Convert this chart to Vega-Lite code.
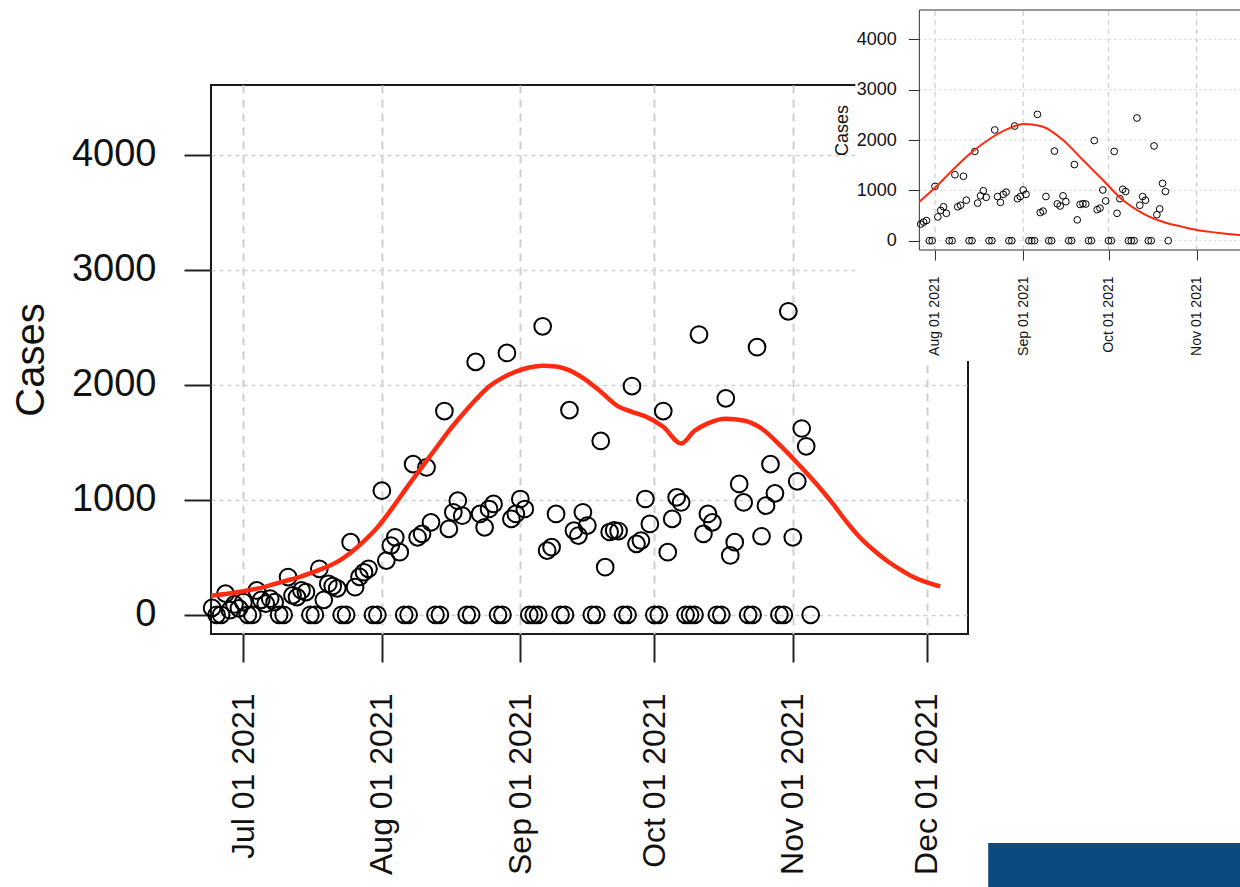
{
  "$schema": "https://vega.github.io/schema/vega-lite/v6.json",
  "width": 757,
  "height": 549,
  "autosize": {"type": "none"},
  "padding": {"left": 211, "top": 85, "right": 272, "bottom": 253},
  "background": "white",
  "config": {
    "view": {"stroke": "#1a1a1a", "strokeWidth": 2},
    "font": "Liberation Sans",
    "axis": {"labelFont": "Liberation Sans", "titleFont": "Liberation Sans", "labelColor": "#111", "titleColor": "#111", "labelLimit": 500}
  },
  "datasets": {
    "cases": [
      {"date": "2021-06-24", "cases": 60}, {"date": "2021-06-25", "cases": 0}, {"date": "2021-06-26", "cases": 0},
      {"date": "2021-06-27", "cases": 184}, {"date": "2021-06-28", "cases": 40}, {"date": "2021-06-29", "cases": 90},
      {"date": "2021-06-30", "cases": 56}, {"date": "2021-07-01", "cases": 110}, {"date": "2021-07-02", "cases": 0},
      {"date": "2021-07-03", "cases": 0}, {"date": "2021-07-04", "cases": 212}, {"date": "2021-07-05", "cases": 130},
      {"date": "2021-07-06", "cases": 97}, {"date": "2021-07-07", "cases": 140}, {"date": "2021-07-08", "cases": 110},
      {"date": "2021-07-09", "cases": 0}, {"date": "2021-07-10", "cases": 0}, {"date": "2021-07-11", "cases": 328},
      {"date": "2021-07-12", "cases": 169}, {"date": "2021-07-13", "cases": 154}, {"date": "2021-07-14", "cases": 212},
      {"date": "2021-07-15", "cases": 198}, {"date": "2021-07-16", "cases": 0}, {"date": "2021-07-17", "cases": 0},
      {"date": "2021-07-18", "cases": 400}, {"date": "2021-07-19", "cases": 130}, {"date": "2021-07-20", "cases": 270},
      {"date": "2021-07-21", "cases": 250}, {"date": "2021-07-22", "cases": 230}, {"date": "2021-07-23", "cases": 0},
      {"date": "2021-07-24", "cases": 0}, {"date": "2021-07-25", "cases": 631}, {"date": "2021-07-26", "cases": 240},
      {"date": "2021-07-27", "cases": 330}, {"date": "2021-07-28", "cases": 370}, {"date": "2021-07-29", "cases": 400},
      {"date": "2021-07-30", "cases": 0}, {"date": "2021-07-31", "cases": 0}, {"date": "2021-08-01", "cases": 1079},
      {"date": "2021-08-02", "cases": 472}, {"date": "2021-08-03", "cases": 602}, {"date": "2021-08-04", "cases": 674},
      {"date": "2021-08-05", "cases": 544}, {"date": "2021-08-06", "cases": 0}, {"date": "2021-08-07", "cases": 0},
      {"date": "2021-08-08", "cases": 1310}, {"date": "2021-08-09", "cases": 674}, {"date": "2021-08-10", "cases": 704},
      {"date": "2021-08-11", "cases": 1281}, {"date": "2021-08-12", "cases": 804}, {"date": "2021-08-13", "cases": 0},
      {"date": "2021-08-14", "cases": 0}, {"date": "2021-08-15", "cases": 1772}, {"date": "2021-08-16", "cases": 747},
      {"date": "2021-08-17", "cases": 891}, {"date": "2021-08-18", "cases": 992}, {"date": "2021-08-19", "cases": 862},
      {"date": "2021-08-20", "cases": 0}, {"date": "2021-08-21", "cases": 0}, {"date": "2021-08-22", "cases": 2199},
      {"date": "2021-08-23", "cases": 877}, {"date": "2021-08-24", "cases": 761}, {"date": "2021-08-25", "cases": 920},
      {"date": "2021-08-26", "cases": 964}, {"date": "2021-08-27", "cases": 0}, {"date": "2021-08-28", "cases": 0},
      {"date": "2021-08-29", "cases": 2277}, {"date": "2021-08-30", "cases": 834}, {"date": "2021-08-31", "cases": 877},
      {"date": "2021-09-01", "cases": 1007}, {"date": "2021-09-02", "cases": 920}, {"date": "2021-09-03", "cases": 0},
      {"date": "2021-09-04", "cases": 0}, {"date": "2021-09-05", "cases": 0}, {"date": "2021-09-06", "cases": 2509},
      {"date": "2021-09-07", "cases": 559}, {"date": "2021-09-08", "cases": 588}, {"date": "2021-09-09", "cases": 877},
      {"date": "2021-09-10", "cases": 0}, {"date": "2021-09-11", "cases": 0}, {"date": "2021-09-12", "cases": 1780},
      {"date": "2021-09-13", "cases": 732}, {"date": "2021-09-14", "cases": 689}, {"date": "2021-09-15", "cases": 891},
      {"date": "2021-09-16", "cases": 776}, {"date": "2021-09-17", "cases": 0}, {"date": "2021-09-18", "cases": 0},
      {"date": "2021-09-19", "cases": 1512}, {"date": "2021-09-20", "cases": 414}, {"date": "2021-09-21", "cases": 720},
      {"date": "2021-09-22", "cases": 735}, {"date": "2021-09-23", "cases": 728}, {"date": "2021-09-24", "cases": 0},
      {"date": "2021-09-25", "cases": 0}, {"date": "2021-09-26", "cases": 1989}, {"date": "2021-09-27", "cases": 617},
      {"date": "2021-09-28", "cases": 646}, {"date": "2021-09-29", "cases": 1007}, {"date": "2021-09-30", "cases": 790},
      {"date": "2021-10-01", "cases": 0}, {"date": "2021-10-02", "cases": 0}, {"date": "2021-10-03", "cases": 1772},
      {"date": "2021-10-04", "cases": 544}, {"date": "2021-10-05", "cases": 834}, {"date": "2021-10-06", "cases": 1021},
      {"date": "2021-10-07", "cases": 977}, {"date": "2021-10-08", "cases": 0}, {"date": "2021-10-09", "cases": 0},
      {"date": "2021-10-10", "cases": 0}, {"date": "2021-10-11", "cases": 2437}, {"date": "2021-10-12", "cases": 704},
      {"date": "2021-10-13", "cases": 877}, {"date": "2021-10-14", "cases": 804}, {"date": "2021-10-15", "cases": 0},
      {"date": "2021-10-16", "cases": 0}, {"date": "2021-10-17", "cases": 1882}, {"date": "2021-10-18", "cases": 516},
      {"date": "2021-10-19", "cases": 631}, {"date": "2021-10-20", "cases": 1138}, {"date": "2021-10-21", "cases": 977},
      {"date": "2021-10-22", "cases": 0}, {"date": "2021-10-23", "cases": 0}, {"date": "2021-10-24", "cases": 2327},
      {"date": "2021-10-25", "cases": 683}, {"date": "2021-10-26", "cases": 949}, {"date": "2021-10-27", "cases": 1310},
      {"date": "2021-10-28", "cases": 1056}, {"date": "2021-10-29", "cases": 0}, {"date": "2021-10-30", "cases": 0},
      {"date": "2021-10-31", "cases": 2639}, {"date": "2021-11-01", "cases": 674}, {"date": "2021-11-02", "cases": 1160},
      {"date": "2021-11-03", "cases": 1620}, {"date": "2021-11-04", "cases": 1465}, {"date": "2021-11-05", "cases": 0}
    ],
    "model": [
      {"date": "2021-06-22", "fit": 160}, {"date": "2021-06-27", "fit": 180}, {"date": "2021-07-01", "fit": 205},
      {"date": "2021-07-06", "fit": 245}, {"date": "2021-07-10", "fit": 290}, {"date": "2021-07-14", "fit": 335},
      {"date": "2021-07-18", "fit": 390}, {"date": "2021-07-22", "fit": 460}, {"date": "2021-07-25", "fit": 540},
      {"date": "2021-07-28", "fit": 640}, {"date": "2021-07-31", "fit": 760}, {"date": "2021-08-03", "fit": 910},
      {"date": "2021-08-07", "fit": 1130}, {"date": "2021-08-12", "fit": 1390}, {"date": "2021-08-16", "fit": 1600},
      {"date": "2021-08-19", "fit": 1740}, {"date": "2021-08-22", "fit": 1870}, {"date": "2021-08-25", "fit": 1985},
      {"date": "2021-08-28", "fit": 2060}, {"date": "2021-08-31", "fit": 2115}, {"date": "2021-09-03", "fit": 2150},
      {"date": "2021-09-06", "fit": 2165}, {"date": "2021-09-09", "fit": 2160}, {"date": "2021-09-12", "fit": 2125},
      {"date": "2021-09-15", "fit": 2060}, {"date": "2021-09-19", "fit": 1940}, {"date": "2021-09-23", "fit": 1810},
      {"date": "2021-09-26", "fit": 1765}, {"date": "2021-09-29", "fit": 1725}, {"date": "2021-10-03", "fit": 1635},
      {"date": "2021-10-07", "fit": 1490}, {"date": "2021-10-10", "fit": 1600}, {"date": "2021-10-13", "fit": 1665},
      {"date": "2021-10-17", "fit": 1705}, {"date": "2021-10-21", "fit": 1690}, {"date": "2021-10-25", "fit": 1620},
      {"date": "2021-10-29", "fit": 1480}, {"date": "2021-11-02", "fit": 1320}, {"date": "2021-11-06", "fit": 1150},
      {"date": "2021-11-10", "fit": 964}, {"date": "2021-11-13", "fit": 810}, {"date": "2021-11-16", "fit": 674},
      {"date": "2021-11-19", "fit": 565}, {"date": "2021-11-22", "fit": 472}, {"date": "2021-11-25", "fit": 395},
      {"date": "2021-11-28", "fit": 328}, {"date": "2021-12-01", "fit": 282}, {"date": "2021-12-04", "fit": 247}
    ],
    "inset_model": [
      {"date": "2021-07-26T12:00:00Z", "fit": 775}, {"date": "2021-08-01", "fit": 1050}, {"date": "2021-08-08", "fit": 1450},
      {"date": "2021-08-14", "fit": 1760}, {"date": "2021-08-21", "fit": 2050}, {"date": "2021-08-27", "fit": 2230},
      {"date": "2021-09-01", "fit": 2318}, {"date": "2021-09-04", "fit": 2310}, {"date": "2021-09-08", "fit": 2264},
      {"date": "2021-09-15", "fit": 2000}, {"date": "2021-09-22", "fit": 1603}, {"date": "2021-09-29", "fit": 1206},
      {"date": "2021-10-06", "fit": 808}, {"date": "2021-10-13", "fit": 544}, {"date": "2021-10-20", "fit": 377},
      {"date": "2021-10-27", "fit": 275}, {"date": "2021-11-01", "fit": 212}, {"date": "2021-11-08", "fit": 160},
      {"date": "2021-11-16", "fit": 113}, {"date": "2021-11-20", "fit": 95}
    ],
    "inset_vgrid": [{"g": "2021-08-01"}, {"g": "2021-09-01"}, {"g": "2021-10-01"}, {"g": "2021-11-01"}],
    "inset_hgrid": [{"v": 0}, {"v": 1000}, {"v": 2000}, {"v": 3000}, {"v": 4000}]
  },
  "layer": [
    {
      "layer": [
        {
          "data": {"name": "cases"},
          "mark": {"type": "point", "shape": "circle", "filled": false, "size": 280, "stroke": "#000", "strokeWidth": 2, "opacity": 1},
          "encoding": {
            "x": {"field": "date", "type": "temporal",
              "scale": {"type": "utc", "nice": false, "domain": [{"year": 2021, "month": 6, "date": 23, "hours": 17, "minutes": 54, "utc": true}, {"year": 2021, "month": 12, "date": 10, "hours": 5, "minutes": 25, "utc": true}]},
              "axis": {"title": null, "values": [{"year": 2021, "month": 7, "date": 1, "utc": true}, {"year": 2021, "month": 8, "date": 1, "utc": true}, {"year": 2021, "month": 9, "date": 1, "utc": true}, {"year": 2021, "month": 10, "date": 1, "utc": true}, {"year": 2021, "month": 11, "date": 1, "utc": true}, {"year": 2021, "month": 12, "date": 1, "utc": true}],
                "labelExpr": "utcFormat(datum.value, '%b %d %Y')", "labelAngle": 270, "labelFontSize": 32, "labelPadding": 31, "labelLimit": 500,
                "tickSize": 28, "tickWidth": 2, "tickColor": "#222", "domain": false,
                "grid": true, "gridDash": [8, 6], "gridColor": "#cfcfcf", "gridWidth": 2, "labelOverlap": false}},
            "y": {"field": "cases", "type": "quantitative",
              "scale": {"domain": [-167, 4607], "nice": false, "zero": false},
              "axis": {"title": "Cases", "values": [0, 1000, 2000, 3000, 4000], "format": "d", "labelFontSize": 38, "labelPadding": 28,
                "tickSize": 27, "tickWidth": 2, "tickColor": "#222", "domain": false,
                "grid": true, "gridDash": [4, 4], "gridColor": "#cfcfcf", "gridWidth": 1.5,
                "titleFontSize": 40, "titleFontWeight": "normal", "titleAngle": 270, "titleX": -168, "titleY": 274.5, "titleAlign": "center", "titleBaseline": "alphabetic"}}
          }
        },
        {
          "data": {"name": "model"},
          "mark": {"type": "line", "color": "#ff2a10", "strokeWidth": 4.5, "interpolate": "monotone", "clip": true},
          "encoding": {
            "x": {"field": "date", "type": "temporal", "scale": {"type": "utc", "nice": false, "domain": [{"year": 2021, "month": 6, "date": 23, "hours": 17, "minutes": 54, "utc": true}, {"year": 2021, "month": 12, "date": 10, "hours": 5, "minutes": 25, "utc": true}]}},
            "y": {"field": "fit", "type": "quantitative", "scale": {"domain": [-167, 4607], "nice": false, "zero": false}}
          }
        },
        {
          "data": {"values": [{}]},
          "mark": {"type": "rect", "color": "#0b4a80"},
          "encoding": {
            "x": {"datum": {"year": 2021, "month": 12, "date": 14, "hours": 18, "utc": true}, "type": "temporal", "scale": {"type": "utc", "nice": false, "domain": [{"year": 2021, "month": 6, "date": 23, "hours": 17, "minutes": 54, "utc": true}, {"year": 2021, "month": 12, "date": 10, "hours": 5, "minutes": 25, "utc": true}]}},
            "x2": {"datum": {"year": 2022, "month": 2, "date": 15, "utc": true}},
            "y": {"datum": -1984, "type": "quantitative", "scale": {"domain": [-167, 4607], "nice": false, "zero": false}},
            "y2": {"datum": -2500}
          }
        }
      ]
    },
    {
      "layer": [
        {
          "data": {"values": [{}]},
          "mark": {"type": "rect", "color": "white"},
          "encoding": {
            "x": {"datum": {"year": 2021, "month": 7, "date": 4, "utc": true}, "type": "temporal", "scale": {"type": "utc", "nice": false, "domain": [{"year": 2021, "month": 7, "date": 26, "hours": 12, "utc": true}, {"year": 2021, "month": 11, "date": 20, "utc": true}], "range": [708.35, 1039.75]}},
            "x2": {"datum": {"year": 2021, "month": 11, "date": 20, "utc": true}},
            "y": {"datum": -2390, "type": "quantitative", "scale": {"domain": [-184.7, 4582], "range": [165, -75], "nice": false, "zero": false}},
            "y2": {"datum": 4800}
          }
        },
        {
          "data": {"name": "inset_vgrid"},
          "mark": {"type": "rule", "color": "#d0d0d0", "strokeWidth": 1.3, "strokeDash": [5, 4]},
          "encoding": {
            "x": {"field": "g", "type": "temporal", "scale": {"type": "utc", "nice": false, "domain": [{"year": 2021, "month": 7, "date": 26, "hours": 12, "utc": true}, {"year": 2021, "month": 11, "date": 20, "utc": true}], "range": [708.35, 1039.75]}},
            "y": {"datum": -184.7, "type": "quantitative", "scale": {"domain": [-184.7, 4582], "range": [165, -75], "nice": false, "zero": false}},
            "y2": {"datum": 4582}
          }
        },
        {
          "data": {"name": "inset_hgrid"},
          "mark": {"type": "rule", "color": "#d0d0d0", "strokeWidth": 1, "strokeDash": [2, 3]},
          "encoding": {
            "x": {"datum": {"year": 2021, "month": 7, "date": 26, "hours": 12, "utc": true}, "type": "temporal", "scale": {"type": "utc", "nice": false, "domain": [{"year": 2021, "month": 7, "date": 26, "hours": 12, "utc": true}, {"year": 2021, "month": 11, "date": 20, "utc": true}], "range": [708.35, 1039.75]}},
            "x2": {"datum": {"year": 2021, "month": 11, "date": 20, "utc": true}},
            "y": {"field": "v", "type": "quantitative", "scale": {"domain": [-184.7, 4582], "range": [165, -75], "nice": false, "zero": false}}
          }
        },
        {
          "data": {"values": [{}]},
          "mark": {"type": "rect", "fill": null, "fillOpacity": 0, "stroke": "#333", "strokeWidth": 1},
          "encoding": {
            "x": {"datum": {"year": 2021, "month": 7, "date": 26, "hours": 12, "utc": true}, "type": "temporal", "scale": {"type": "utc", "nice": false, "domain": [{"year": 2021, "month": 7, "date": 26, "hours": 12, "utc": true}, {"year": 2021, "month": 11, "date": 20, "utc": true}], "range": [708.35, 1039.75]}},
            "x2": {"datum": {"year": 2021, "month": 11, "date": 20, "utc": true}},
            "y": {"datum": -184.7, "type": "quantitative", "scale": {"domain": [-184.7, 4582], "range": [165, -75], "nice": false, "zero": false}},
            "y2": {"datum": 4582}
          }
        },
        {
          "data": {"name": "cases"},
          "transform": [{"filter": {"field": "date", "range": [{"year": 2021, "month": 7, "date": 27, "utc": true}, {"year": 2021, "month": 10, "date": 22, "utc": true}]}}],
          "mark": {"type": "point", "shape": "circle", "filled": false, "size": 45, "stroke": "#000", "strokeWidth": 1, "opacity": 1},
          "encoding": {
            "x": {"field": "date", "type": "temporal", "scale": {"type": "utc", "nice": false, "domain": [{"year": 2021, "month": 7, "date": 26, "hours": 12, "utc": true}, {"year": 2021, "month": 11, "date": 20, "utc": true}], "range": [708.35, 1039.75]},
              "axis": {"orient": "bottom", "offset": -384, "zindex": 1, "title": null,
                "values": [{"year": 2021, "month": 8, "date": 1, "utc": true}, {"year": 2021, "month": 9, "date": 1, "utc": true}, {"year": 2021, "month": 10, "date": 1, "utc": true}, {"year": 2021, "month": 11, "date": 1, "utc": true}],
                "labelExpr": "utcFormat(datum.value, '%b %d %Y')", "labelAngle": 270, "labelFontSize": 14, "labelPadding": 16, "labelLimit": 300,
                "tickSize": 10, "tickWidth": 1, "tickColor": "#333", "domain": false, "grid": false, "labelOverlap": false}},
            "y": {"field": "cases", "type": "quantitative", "scale": {"domain": [-184.7, 4582], "range": [165, -75], "nice": false, "zero": false},
              "axis": {"orient": "left", "offset": -708.35, "zindex": 1, "title": "Cases", "values": [0, 1000, 2000, 3000, 4000], "format": "d",
                "labelFontSize": 18, "labelPadding": 12, "tickSize": 11, "tickWidth": 1, "tickColor": "#333", "domain": false, "grid": false,
                "titleFontSize": 18, "titleFontWeight": "normal", "titleAngle": 270, "titleX": -72, "titleY": 45, "titleAlign": "center", "titleBaseline": "alphabetic"}}
          }
        },
        {
          "data": {"name": "inset_model"},
          "mark": {"type": "line", "color": "#ff2a10", "strokeWidth": 2, "interpolate": "monotone"},
          "encoding": {
            "x": {"field": "date", "type": "temporal", "scale": {"type": "utc", "nice": false, "domain": [{"year": 2021, "month": 7, "date": 26, "hours": 12, "utc": true}, {"year": 2021, "month": 11, "date": 20, "utc": true}], "range": [708.35, 1039.75]}},
            "y": {"field": "fit", "type": "quantitative", "scale": {"domain": [-184.7, 4582], "range": [165, -75], "nice": false, "zero": false}}
          }
        }
      ]
    }
  ],
  "resolve": {"scale": {"x": "independent", "y": "independent"}, "axis": {"x": "independent", "y": "independent"}}
}
